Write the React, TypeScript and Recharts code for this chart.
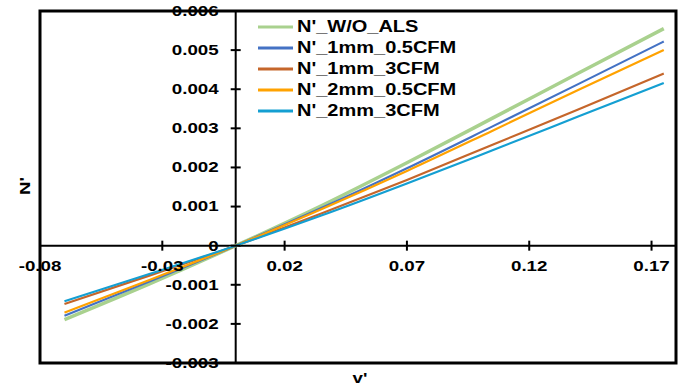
import { LineChart, Line, XAxis, YAxis, ReferenceLine, ReferenceDot, ReferenceArea } from 'recharts'

// v' sample points shared by all curves
const vValues = [-0.07, -0.035, 0, 0.035, 0.07, 0.105, 0.14, 0.175]

const nWithoutAls = [-0.00189, -0.00097, 0, 0.00102, 0.00212, 0.00326, 0.00441, 0.00555]
const n1mm05Cfm = [-0.00179, -0.00091, 0, 0.00096, 0.00198, 0.00305, 0.00413, 0.00522]
const n1mm3Cfm = [-0.00149, -0.00076, 0, 0.00082, 0.00168, 0.00258, 0.00348, 0.0044]
const n2mm05Cfm = [-0.00171, -0.00087, 0, 0.00093, 0.00191, 0.00294, 0.00398, 0.005]
const n2mm3Cfm = [-0.00142, -0.00072, 0, 0.00077, 0.00159, 0.00244, 0.0033, 0.00416]

const xTicks = [-0.08, -0.03, 0.02, 0.07, 0.12, 0.17]
const yTicks = [-0.003, -0.002, -0.001, 0, 0.001, 0.002, 0.003, 0.004, 0.005, 0.006]

const series = [
  { key: 'woAls', name: "N'_W/O_ALS", values: nWithoutAls, color: '#a9d18e', width: 3.5 },
  { key: 'mm1Cfm05', name: "N'_1mm_0.5CFM", values: n1mm05Cfm, color: '#4472c4', width: 2.2 },
  { key: 'mm1Cfm3', name: "N'_1mm_3CFM", values: n1mm3Cfm, color: '#c5662b', width: 2.2 },
  { key: 'mm2Cfm05', name: "N'_2mm_0.5CFM", values: n2mm05Cfm, color: '#ffa200', width: 2.2 },
  { key: 'mm2Cfm3', name: "N'_2mm_3CFM", values: n2mm3Cfm, color: '#149fd2', width: 2.2 },
]

const data = vValues.map((v, i) => {
  const row: Record<string, number> = { v }
  series.forEach((s) => {
    row[s.key] = s.values[i]
  })
  return row
})

const FONT = '"Liberation Sans", Arial, sans-serif'

function WideText({ x, y, anchor = 'middle', size = 15, rotate = 0, children }: any) {
  return (
    <text
      transform={`translate(${x},${y}) rotate(${rotate}) scale(1.25,1)`}
      textAnchor={anchor}
      dominantBaseline="central"
      fontFamily={FONT}
      fontWeight="bold"
      fontSize={size}
      fill="#000"
    >
      {children}
    </text>
  )
}

const fmtY = (t: number) => (t === 0 ? '0' : t.toFixed(3))

function XTick(label: string) {
  return (props: any) => (
    <g>
      <line x1={props.cx} x2={props.cx} y1={props.cy - 5} y2={props.cy + 5} stroke="#000" strokeWidth={2} />
      <WideText x={props.cx} y={props.cy + 20}>{label}</WideText>
    </g>
  )
}

function YTick(label: string) {
  return (props: any) => (
    <g>
      <line x1={props.cx - 5} x2={props.cx + 5} y1={props.cy} y2={props.cy} stroke="#000" strokeWidth={2} />
      <WideText x={props.cx - 17} y={props.cy} anchor="end">{label}</WideText>
    </g>
  )
}

export default function App() {
  return (
    <div style={{ position: 'absolute', left: 0, top: 0, width: 681, height: 385, background: '#fff' }}>
      <LineChart width={681} height={385} data={data} margin={{ top: 11, right: 5, bottom: 22, left: 40 }}>
        <XAxis type="number" dataKey="v" domain={[-0.08, 0.18]} hide />
        <YAxis type="number" domain={[-0.003, 0.006]} hide />
        <ReferenceLine x={0} stroke="#000" strokeWidth={2} />
        <ReferenceLine y={0} stroke="#000" strokeWidth={2} />
        {xTicks.map((t) => (
          <ReferenceDot key={'x' + t} x={t} y={0} r={0} shape={XTick(t.toFixed(2))} />
        ))}
        {yTicks.map((t) => (
          <ReferenceDot key={'y' + t} x={0} y={t} r={0} shape={YTick(fmtY(t))} />
        ))}
        {series.map((s) => (
          <Line
            key={s.key}
            dataKey={s.key}
            name={s.name}
            type="monotone"
            stroke={s.color}
            strokeWidth={s.width}
            dot={false}
            isAnimationActive={false}
          />
        ))}
        <ReferenceArea x1={-0.08} x2={0.18} y1={-0.003} y2={0.006} fill="none" stroke="#000" strokeWidth={3} />
      </LineChart>
      <svg width={681} height={385} style={{ position: 'absolute', left: 0, top: 0, pointerEvents: 'none' }}>
        <WideText x={25} y={186} rotate={-90} size={15}>N'</WideText>
        <WideText x={360} y={378} size={15}>v'</WideText>
        {series.map((s, i) => (
          <g key={s.key}>
            <line x1={258} x2={293} y1={27 + i * 21} y2={27 + i * 21} stroke={s.color} strokeWidth={3} />
            <WideText x={297} y={27 + i * 21} anchor="start" size={16}>{s.name}</WideText>
          </g>
        ))}
      </svg>
    </div>
  )
}
